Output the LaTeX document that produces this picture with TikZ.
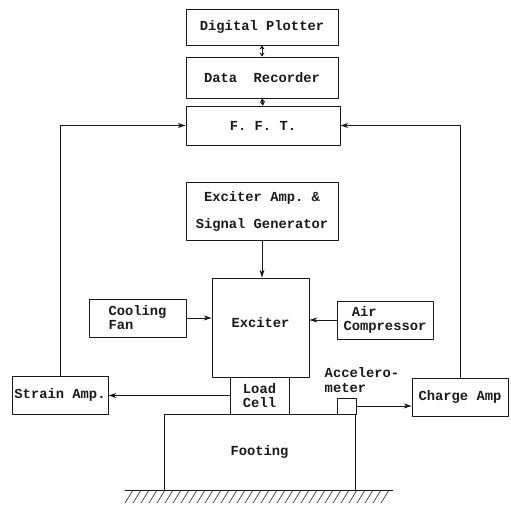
\documentclass[tikz,border=0pt]{standalone}
\usepackage{fontspec}
\setmonofont{Liberation Mono}
\usetikzlibrary{arrows.meta}
\newcommand{\Px}{1pt}
\newcommand{\Edge}{0.8pt}
\newcommand{\HatchStep}{8}
\definecolor{ink}{HTML}{1A1A1A}

\begin{document}
\begin{tikzpicture}[x=\Px,y=-\Px, line join=round, line cap=round,
    unit/.style={draw=ink,line width=\Edge,inner sep=2pt,
      font=\ttfamily\bfseries\fontsize{13.8}{14}\selectfont,text=ink},
    link/.style={draw=ink,line width=\Edge,-{Stealth[length=8pt,width=5pt]}},
    duplex/.style={draw=ink,line width=\Edge,{Stealth[length=4pt,width=5pt]}-{Stealth[length=4pt,width=5pt]}}]

  % ---- frame: the page is the whole picture, 511 by 509 --------------------
  \useasboundingbox (0,0) rectangle (511,509);

  % ---- recording chain ------------------------------------------------------
  \node[unit,minimum width=152,minimum height=36] (plotter) at (262,27) {Digital Plotter};
  \node[unit,minimum width=152,minimum height=41] (recorder) at (262,77.5) {Data\ \ Recorder};
  \node[unit,minimum width=154,minimum height=39] (fft) at (263,125.5) {F. F. T.};

  % ---- excitation -----------------------------------------------------------
  \node[unit,minimum width=152,minimum height=58,align=center,
        font=\ttfamily\bfseries\fontsize{13.8}{27}\selectfont] (generator) at (262,211)
        {Exciter Amp. \&\\Signal Generator};
  % the word sits a little above the middle of the box
  \node[unit,minimum width=97,minimum height=99] (exciter) at (260.5,327.5) {\raisebox{11pt}{Exciter}};
  \node[unit,minimum width=97,minimum height=38,align=left] (fan) at (137.5,318) {Cooling\\Fan};
  \node[unit,minimum width=96,minimum height=38,align=left] (compressor) at (385,320) {\ Air\\Compressor};

  % ---- specimen and pick-ups ------------------------------------------------
  \node[unit,minimum width=191,minimum height=76] (footing) at (259.5,452) {Footing};
  \node[unit,minimum width=59,minimum height=37,align=left] (loadcell) at (259.5,395.5) {Load\\Cell};
  \node[unit,minimum width=19,minimum height=16,inner sep=0pt] (accel) at (346.5,406) {};
  \node[font=\ttfamily\bfseries\fontsize{13.8}{15}\selectfont,text=ink,align=left,inner sep=0pt]
        (accellabel) at (362,380) {Accelero-\\meter};
  \node[unit,minimum width=96,minimum height=38] (strain) at (60,395) {Strain Amp.};
  \node[unit,minimum width=96,minimum height=38] (charge) at (460,397) {Charge Amp};

  % ---- connectors -----------------------------------------------------------
  \draw[duplex] (recorder.north) -- (plotter.south);
  \draw[duplex] (fft.north) -- (recorder.south);
  \draw[link] (generator.south) -- (generator.south |- exciter.north);
  \draw[link] (fan.east) -- (fan.east -| exciter.west);
  \draw[link] (compressor.west) -- (compressor.west -| exciter.east);
  \draw[link] (loadcell.west) -- (loadcell.west -| strain.east);
  \draw[link] (accel.east) -- (accel.east -| charge.west);
  \draw[link] (strain.north) |- (fft.west);
  \draw[link] (charge.north) |- (fft.east);

  % ---- ground under the footing ---------------------------------------------
  \coordinate (groundL) at (125,490);
  \coordinate (groundR) at (393,490);
  \draw[ink,line width=\Edge] (groundL) -- (groundR);
  \foreach \x in {133,141,...,393} {
    \draw[ink,line width=0.6pt] (\x,490) -- ++(-\HatchStep,13);
  }

\end{tikzpicture}
\end{document}
